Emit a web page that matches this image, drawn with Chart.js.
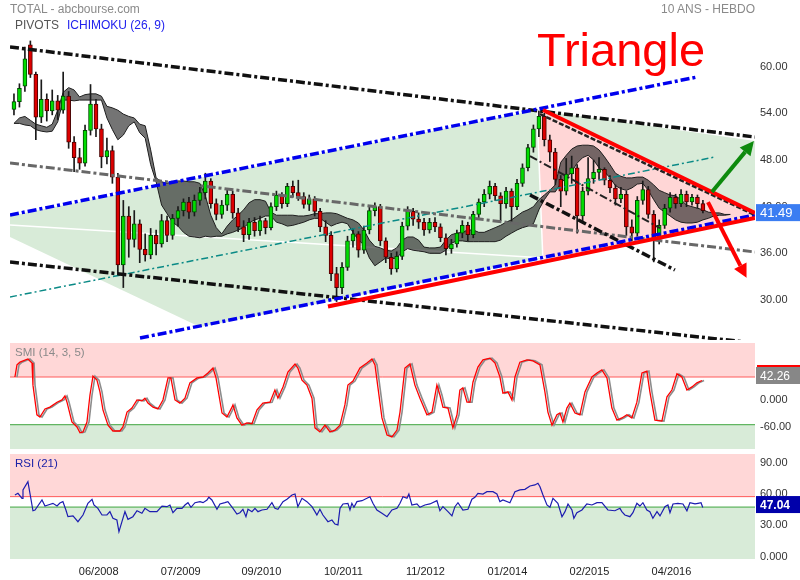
<!DOCTYPE html>
<html><head><meta charset="utf-8">
<script src="https://cdn.jsdelivr.net/npm/chart.js@4.4.1/dist/chart.umd.min.js"></script>
<style>
body{margin:0;background:#fff;width:800px;height:580px;overflow:hidden;font-family:Arial,'Liberation Sans',sans-serif}
#wrap{position:relative;width:800px;height:580px}
canvas{position:absolute;left:0}
.t{position:absolute;white-space:nowrap;font-size:12px;line-height:14px}
</style></head><body><div id="wrap">
<canvas id="cMain" width="800" height="342" style="top:0"></canvas>
<canvas id="cSmi" width="800" height="108" style="top:342px"></canvas>
<canvas id="cRsi" width="800" height="130" style="top:450px"></canvas>
<div class="t" style="left:10px;top:2px;color:#8a8a8a">TOTAL - abcbourse.com</div>
<div class="t" style="left:15px;top:18px;color:#555">PIVOTS</div>
<div class="t" style="left:67px;top:18px;color:#2222ee">ICHIMOKU (26, 9)</div>
<div class="t" style="right:45px;top:2px;color:#8a8a8a">10 ANS - HEBDO</div>
<div class="t" style="left:537px;top:26px;color:#ff0000;font-size:47px;line-height:47px">Triangle</div>
<div class="t" style="left:15px;top:345px;color:#8a8a8a;font-size:11.5px">SMI (14, 3, 5)</div>
<div class="t" style="left:15px;top:456px;color:#1c22a8;font-size:11.5px">RSI (21)</div>
</div>
<script>
// ---------- DATA ----------
// weekly index axis (0 = first candle, spring 2007); candles every 4 weeks
const openP = [54.5,55.5,57.5,62.8,59.0,53.5,55.8,54.3,55.6,54.4, 56.2,50.3,48.3,47.6,51.8,55.2,52.0,48.4,49.2,45.8,
  34.5,40.8,37.8,39.8,36.5,35.8,38.3,37.2,40.2,38.3, 40.5,41.5,42.6,41.3,42.8,43.8,45.3,42.4,41.0,42.2,
  43.6,41.2,39.4,38.4,40.0,38.9,40.2,39.3,42.0,43.5, 42.4,44.6,43.8,43.3,42.3,43.0,41.4,39.4,38.3,33.4,
  31.6,34.2,37.6,38.5,36.4,39.0,41.5,42.0,37.6,35.5, 34.0,35.6,39.5,41.4,40.4,40.0,39.0,40.0,39.4,38.0,
  36.6,37.2,38.6,39.6,38.4,41.0,42.6,43.6,44.6,43.4, 42.4,44.0,42.0,45.0,47.0,49.6,52.0,53.6,50.6,49.0,
  45.5,44.0,46.2,47.0,40.8,44.0,45.6,46.4,46.8,45.4, 44.4,43.0,43.6,39.4,38.6,42.8,44.2,41.0,37.8,39.6,
  41.8,43.2,42.4,43.6,42.6,43.2,42.4];
const highP = [56.5,57.8,62.5,63.3,59.3,58.3,56.5,57.0,56.3,59.3, 56.8,51.0,49.5,52.5,57.7,55.8,52.6,50.8,49.8,46.3,
  42.8,42.0,41.5,40.3,38.5,39.2,39.0,41.0,40.8,41.0, 42.0,43.0,43.2,43.5,44.5,46.3,45.6,43.0,42.8,44.3,
  44.0,41.8,40.2,40.5,40.6,40.8,40.5,42.5,44.0,43.8, 45.0,45.3,45.4,43.8,43.5,43.3,41.8,40.2,38.8,34.2,
  34.8,38.2,39.2,38.8,39.5,42.0,42.5,42.3,38.0,36.0, 36.2,40.0,42.0,41.8,41.2,40.5,40.5,40.6,39.8,38.5,
  37.8,39.0,40.2,40.0,41.4,43.0,44.2,45.3,45.0,43.8, 44.5,44.3,45.5,47.5,50.0,52.5,54.3,54.0,51.2,49.5,
  46.0,48.2,48.5,47.4,44.5,48.3,48.0,48.3,47.0,46.0, 44.8,44.5,44.0,40.3,43.3,45.3,44.6,41.5,40.3,42.3,
  43.8,43.6,44.2,44.0,43.6,43.5,42.8];
const lowP = [53.8,54.8,56.8,58.6,50.6,52.8,53.0,53.8,53.2,54.0, 49.5,46.5,46.8,47.2,51.2,51.0,47.0,47.5,45.0,33.2,
  31.6,35.5,36.8,34.8,35.0,35.3,35.8,36.8,37.5,37.8, 39.5,40.8,40.5,40.8,42.2,43.0,41.8,40.3,40.5,41.5,
  40.5,38.8,37.5,37.8,38.2,38.3,38.5,39.0,41.5,41.8, 42.0,43.2,42.8,41.8,41.5,40.8,38.8,37.5,32.5,29.8,
  30.8,33.8,36.8,35.5,36.0,38.5,40.8,37.0,34.8,33.3, 33.6,35.2,39.0,39.6,39.2,38.3,38.6,38.8,37.5,35.8,
  36.0,36.8,38.0,37.6,38.0,40.6,42.0,43.0,42.8,40.2, 41.8,40.0,41.6,44.6,46.6,49.0,51.0,49.8,47.8,44.8,
  42.0,43.5,45.0,38.6,40.0,43.5,45.0,45.5,44.8,43.8, 42.2,42.5,38.3,37.6,38.2,42.3,40.5,34.9,37.2,39.2,
  41.3,41.8,42.0,42.0,42.2,41.8,41.2];
const closeP = [55.5,57.2,61.0,59.0,53.5,55.8,54.3,55.6,54.4,56.2, 50.3,48.3,47.6,51.8,55.2,52.0,48.4,49.2,45.8,34.5,
  40.8,37.8,39.8,36.5,35.8,38.3,37.2,40.2,38.3,40.5, 41.5,42.6,41.3,42.8,43.8,45.3,42.4,41.0,42.2,43.6,
  41.2,39.4,38.4,40.0,38.9,40.2,39.3,42.0,43.5,42.4, 44.6,43.8,43.3,42.3,43.0,41.4,39.4,38.3,33.4,31.6,
  34.2,37.6,38.5,36.4,39.0,41.5,42.0,37.6,35.5,34.0, 35.6,39.5,41.4,40.4,40.0,39.0,40.0,39.4,38.0,36.6,
  37.2,38.6,39.6,38.4,41.0,42.6,43.6,44.6,43.4,42.4, 44.0,42.0,45.0,47.0,49.6,52.0,53.6,50.6,49.0,45.5,
  44.0,46.2,47.0,40.8,44.0,45.6,46.4,46.8,45.4,44.4, 43.0,43.6,39.4,38.6,42.8,44.2,41.0,37.8,39.6,41.8,
  43.2,42.4,43.6,42.6,43.2,42.4,41.49];
const candleWeek = closeP.map((_, i) => 4 * i);

// Ichimoku cloud (senkou spans), every 4 weeks, projected 26 weeks ahead
const cloudA = [52.7,53.4,53.6,53.1,52.6,52.4,52.2,52.6,54.4,56.7, 57.3,57.0,56.1,56.4,56.5,56.5,56.2,54.9,54.7,54.4,
  53.9,53.6,53.4,52.6,52.4,49.3,45.7,45.2,45.0,45.2, 45.3,45.3,45.2,45.2,45.0,43.4,40.9,39.3,38.5,39.5,
  40.3,40.9,41.6,42.5,42.9,42.9,42.7,41.3,40.9,40.9, 40.9,40.9,40.8,40.8,40.9,41.1,41.1,41.2,41.2,41.1,
  40.8,40.5,40.3,39.9,39.0,37.7,36.9,36.7,36.4,36.3, 36.7,37.7,38.1,38.1,37.7,36.8,36.7,36.7,36.8,37.7,
  38.4,38.6,38.7,39.0,39.0,38.7,38.7,39.0,39.3,39.6, 40.0,40.3,40.8,41.3,41.6,42.0,42.9,43.5,44.1,44.8,
  47.7,48.6,49.4,49.8,49.9,49.9,49.8,49.3,48.4,47.4, 46.3,45.9,45.7,45.7,45.8,45.8,45.4,44.8,44.1,43.8,
  43.5,43.4,42.9,42.2,42.0,41.8,41.6,41.3,41.2,41.2, 41.0,41.0];
const cloudB = [52.7,52.7,52.5,52.4,51.9,51.7,51.6,51.7,52.9,55.7, 55.7,55.6,55.7,55.7,55.7,55.7,55.7,53.4,51.9,50.6,
  51.2,52.4,52.9,51.5,50.8,47.4,45.2,42.2,41.1,40.0, 39.5,38.7,38.2,38.1,38.0,38.2,38.1,38.2,38.2,38.5,
  38.7,39.0,39.3,39.9,40.3,40.5,40.8,40.8,40.0,39.8, 39.5,39.6,39.8,40.0,40.3,40.5,40.5,40.0,39.5,39.8,
  40.0,39.8,38.7,37.7,37.1,35.4,34.4,34.9,35.4,35.3, 35.4,36.2,36.6,36.4,36.3,36.2,36.0,36.0,36.0,36.4,
  37.3,37.6,37.6,37.5,37.5,37.5,37.5,37.5,37.5,37.7, 38.2,38.6,39.0,39.3,39.5,39.8,41.6,42.9,43.9,43.9,
  45.0,45.7,46.5,47.6,48.3,48.6,48.0,47.0,46.5,45.7, 44.7,44.3,44.1,44.4,44.9,45.0,44.1,42.9,41.8,41.3,
  40.8,40.3,40.0,39.9,39.9,40.0,40.3,40.5,40.8,40.9, 40.9,41.0];
const cloudWeek = cloudA.map((_, i) => 4 * i);

// drawn trend lines / zones, as [week, price] pairs
const resTopBlack   = [[-2.9, 62.52], [542.1, 50.95]];
const pivotGray     = [[-2.9, 47.61], [542.1, 36.17]];
const supBotBlack   = [[-2.9, 34.88], [542.1, 24.47]];
const chanTopBlue   = [[-2.9, 40.93], [499.6, 58.66]];
const chanBotBlue   = [[92.2, 25.12], [542.1, 40.93]];
const tealLine      = [[-2.9, 30.39], [512.8, 48.38]];
const triUpperRed   = [[387.0, 54.42], [542.1, 41.18]];
const triLowerRed   = [[229.7, 29.16], [542.1, 40.54]];
const triUpperDash  = [[384.8, 53.90], [542.1, 40.92]];
const innerDash1    = [[377.5, 48.51], [472.6, 39.25]];
const innerDash2    = [[377.5, 43.50], [483.5, 33.86]];
const whiteGuide    = [[-2.9, 39.64], [388.4, 35.40]];
const pinkEdge      = [[382.6, 54.42], [387.0, 34.88]];
const greenZone     = [[-2.9, 40.80], [382.6, 54.42], [542.1, 50.44], [542.1, 40.80], [136.1, 26.53], [-2.9, 38.10], [-2.9, 40.80]];
const pinkZone      = [[382.6, 54.42], [542.1, 41.18], [542.1, 40.67], [387.0, 34.88], [382.6, 54.42]];
const upArrowShaft  = [[510.6, 43.88], [534.9, 49.04]];
const upArrowHead   = [[541.3, 50.43], [538.8, 48.48], [530.9, 49.61], [541.3, 50.43]];
const dnArrowShaft  = [[507.7, 42.59], [531.4, 34.41]];
const dnArrowHead   = [[536.2, 32.83], [535.9, 34.83], [526.8, 33.98], [536.2, 32.83]];

// SMI (14,3,5)
const smiWeek = [0.7,2.2,4.4,10.2,13.2,13.9,16.8,19.0,22.7,26.3, 31.5,35.1,37.3,38.8,42.4,46.1,48.3,50.5,53.4,55.6,
  57.8,60.7,62.9,65.1,68.8,72.4,77.5,79.7,82.7,86.3, 90.0,93.6,95.8,98.0,101.7,105.3,109.0,112.7,114.8,117.8,
  121.4,125.1,128.7,133.9,138.3,141.9,145.6,147.8,152.2,155.8, 159.5,160.2,163.1,166.8,170.4,174.1,177.8,182.1,187.3,190.9,
  193.1,196.8,200.4,205.6,207.7,210.7,214.3,218.0,220.2,223.8, 227.5,231.2,234.8,238.5,242.1,244.3,248.0,253.1,258.2,261.9,
  264.1,266.3,269.2,272.9,276.5,280.2,282.4,286.0,289.7,293.3, 297.0,302.1,305.8,309.4,311.6,313.8,317.5,321.1,324.1,326.2,
  328.4,331.4,333.6,335.8,339.4,343.1,348.2,351.9,355.5,357.7, 361.4,364.3,366.5,370.1,375.3,379.7,384.8,388.4,390.6,393.6,
  397.2,399.4,401.6,404.5,406.7,410.4,414.0,417.7,422.8,426.5, 430.1,433.8,437.4,441.1,444.7,448.4,452.0,455.7,459.4,463.0,
  465.2,468.9,474.0,477.7,481.3,485.0,488.6,492.3,496.0,499.6, 503.3];
const smiVal = [50,77,83,90,81,32,-34,-39,-21,-17, -6,-1,8,-6,-50,-61,-74,-72,-50,10,
  52,43,17,-23,-57,-70,-70,-61,-28,-19, -1,-3,3,-8,-17,-21,-1,48,48,-1,
  -8,3,37,48,50,59,70,48,-30,-39, -17,-12,-41,-57,-52,-54,-23,-8,-6,21,
  3,28,61,79,70,43,32,3,-63,-72, -57,-72,-68,-57,-12,32,41,70,81,90,
  77,26,-41,-79,-83,-68,-28,70,79,32, 3,-34,-28,32,10,-17,-19,-63,-34,21,
  26,-6,-6,39,72,88,92,81,50,14, 17,-1,50,83,88,86,77,17,-28,-57,
  -34,-30,-50,-19,-8,-30,-34,17,50,59, 66,48,-19,-46,-41,-34,-41,-6,59,63,
  17,-46,-48,6,21,57,50,21,28,37, 42.26];
const smiSignalLagWeeks = 1.5;
const smiLevels = [50, -56];
const smiTicks = [0, -60];

// RSI (21)
const rsiWeek = [0.7,2.9,5.9,6.6,10.2,11.7,13.9,15.4,20.5,22.7, 24.9,28.5,31.5,33.6,35.8,38.0,39.5,43.2,46.8,50.5,
  54.1,57.1,58.5,61.4,64.4,68.0,70.2,72.4,75.3,76.8, 79.0,81.2,83.4,87.0,90.0,93.6,95.8,99.5,104.6,108.3,
  111.9,114.1,116.3,119.2,122.9,125.1,127.3,129.5,132.4,136.1, 138.3,141.2,142.6,144.8,148.5,150.7,154.3,156.5,160.2,163.1,
  165.3,167.5,169.7,171.2,174.1,176.3,178.5,181.4,185.1,188.7, 190.9,193.1,196.8,199.7,203.4,205.6,207.7,210.7,214.3,218.0,
  220.2,221.6,223.8,226.0,229.7,232.6,234.8,237.0,238.5,240.7, 244.3,245.8,247.2,248.7,250.9,254.6,258.2,260.4,262.6,265.5,
  269.2,272.9,276.5,280.2,282.4,284.6,287.5,288.9,291.1,294.8, 297.0,300.6,304.3,309.4,311.6,313.8,317.5,320.4,322.6,324.8,
  328.4,332.1,335.0,337.2,339.4,343.1,346.0,350.4,353.3,355.5, 357.7,362.8,366.5,370.1,373.8,377.5,381.1,383.3,384.8,387.0,
  389.9,392.1,394.3,397.9,400.9,403.1,405.3,408.2,409.6,411.8, 415.5,419.1,422.8,426.5,430.1,434.5,439.6,443.3,444.7,446.9,
  450.6,452.8,455.7,457.9,460.1,463.0,465.2,467.4,470.4,472.6, 476.2,478.4,479.9,482.1,485.7,489.4,492.3,494.5,498.2,500.4,
  502.6,503.9];
const rsiVal = [59,60.7,55.9,63.9,71.8,60.7,44,44.7,54.3,48.5, 49.5,51.1,48.5,51.4,52.7,44.7,38.3,39,33.5,39.9,
  51.1,55,49.5,46.3,39.9,39.9,43.1,36.8,35.1,23.9, 33.5,43.1,35.8,38.3,44,41.6,46.3,43.1,43.1,48.5,
  47.9,49.5,42.1,46.3,46.3,49.5,51.7,47.3,51.7,52.7, 51.7,54.3,56.9,54.3,45.4,50.5,51.7,52.7,46.3,40.9,
  42.1,45.4,38.3,45.4,43.1,46.3,43.1,44.7,45.4,51.7, 46.3,45.4,52.7,55,59.1,60,47.9,55.9,52.7,47.9,
  43.1,39.9,45.4,39.9,33.5,35.1,31.3,30.4,46.3,50.5, 51.1,44.7,51.1,47.3,52.7,53.6,55.9,57.4,51.1,44.7,
  41.6,38.3,44.7,46.3,51.1,57.4,55.9,60,49.5,50.5, 47.3,49.5,50.5,53.6,44,47.9,43.1,39,47.9,51.7,
  44.7,45.4,55,56.9,60.7,60,62.2,62.2,60,52.7, 54.3,51.7,62.2,63.9,64.5,67.7,68.7,70.3,67,59.1,
  49.5,47.3,55.9,51.1,38.3,43.1,50.5,44.7,36.8,42.1, 44.7,50.5,49.5,51.7,51.7,44.7,44,46.3,43.1,39.9,
  38.3,42.1,51.1,48.5,51.7,44.7,43.1,36.8,43.1,39, 47.9,49.5,42.1,50.5,51.1,50.5,44,51.7,50.5,51.1,
  51.7,47.04];
const rsiLevels = [57.5, 47.5];
const rsiTicks = [0, 30, 60, 90];

const priceTicks = [30, 36, 42, 48, 54, 60];
const xTickWeeks = [62, 122, 181, 241, 301, 361, 421, 481];
const xTickLabels = ['06/2008','07/2009','09/2010','10/2011','11/2012','01/2014','02/2015','04/2016'];

// ---------- CHARTS ----------
const X_MIN = -2.9, X_MAX = 542.1;
Chart.defaults.font.family = "Arial, 'Liberation Sans', sans-serif";
const pairs = arr => arr.map(p => ({x: p[0], y: p[1]}));
const zip = (xs, ys) => xs.map((x, i) => ({x, y: ys[i]}));
const fmt = v => v === 0 ? '0.000' : v.toFixed(2);

function lineDs(data, color, width, dash, order, extra) {
  return Object.assign({type: 'line', data, borderColor: color, borderWidth: width, borderDash: dash || [],
    pointRadius: 0, fill: false, tension: 0, order, borderCapStyle: 'butt'}, extra || {});
}
function zoneDs(data, color, order) {
  return {type: 'line', data, borderWidth: 0, borderColor: 'rgba(0,0,0,0)', backgroundColor: color,
    pointRadius: 0, fill: 'shape', tension: 0, order};
}
function yAxis(min, max, ticks) {
  return {position: 'right', min, max,
    grid: {display: false, drawTicks: false}, border: {display: false},
    afterBuildTicks: s => { s.ticks = ticks.map(v => ({value: v})); },
    afterFit: s => { s.width = 45; s.paddingTop = 0; s.paddingBottom = 0; },
    ticks: {padding: 5, color: '#333', font: {size: 11}, callback: v => fmt(v)}};
}
const hiddenX = {type: 'linear', min: X_MIN, max: X_MAX, offset: false, display: false};
const tagPlugin = {
  id: 'tags',
  afterDraw(chart, args, o) {
    const ctx = chart.ctx, a = chart.chartArea;
    const y = chart.scales.y.getPixelForValue(o.value) + (o.dy || 0);
    ctx.save();
    if (o.topBar) { ctx.fillStyle = o.topBar; ctx.fillRect(a.right + 2, y - 10.5, 800 - a.right - 2, 2); }
    ctx.fillStyle = o.bg;
    ctx.fillRect(a.right + 1, y - 8.5, 800 - a.right - 1, 17);
    ctx.fillStyle = '#fff'; ctx.font = o.font; ctx.textBaseline = 'middle'; ctx.textAlign = 'left';
    ctx.fillText(o.text, a.right + 5, y + 1);
    ctx.restore();
  }
};
const baseOpts = {responsive: false, maintainAspectRatio: false, animation: false, events: []};

// main price panel
const bodyColors = closeP.map((c, i) => c >= openP[i] ? '#00dd00' : '#dd0000');
const bodyBorders = closeP.map((c, i) => c >= openP[i] ? '#004a00' : '#4a0000');
const BLK_DASH = [9, 3, 3, 3];
new Chart(document.getElementById('cMain'), {
  type: 'bar',
  data: {datasets: [
    zoneDs(pairs(greenZone), '#d8ebd8', 100),
    zoneDs(pairs(pinkZone), '#ffd6d6', 99),
    lineDs(pairs(whiteGuide), '#ffffff', 1.5, [], 98),
    lineDs(pairs(pinkEdge), '#ffffff', 1.5, [], 98),
    lineDs(zip(cloudWeek, cloudA), '#1e1e1e', 1, [], 90, {fill: '+1', backgroundColor: 'rgba(38,38,38,0.64)'}),
    lineDs(zip(cloudWeek, cloudB), '#1e1e1e', 1, [], 89),
    {type: 'bar', data: candleWeek.map((w, i) => ({x: w, y: [lowP[i], highP[i]]})), backgroundColor: '#1a1a1a',
      barThickness: 1, grouped: false, order: 31},
    {type: 'bar', data: candleWeek.map((w, i) => ({x: w, y: [openP[i], closeP[i]]})), backgroundColor: bodyColors,
      borderColor: bodyBorders, borderWidth: 1, borderSkipped: false, barThickness: 4, minBarLength: 1, grouped: false, order: 30},
    lineDs(pairs(pivotGray), '#686868', 3, BLK_DASH, 22),
    lineDs(pairs(tealLine), '#0a8a86', 1.5, [7, 3, 2, 3], 22),
    lineDs(pairs(innerDash1), '#222', 2, [8, 3, 2, 3], 21),
    lineDs(pairs(innerDash2), '#111', 3.5, [9, 3, 3, 3], 21),
    lineDs(pairs(resTopBlack), '#111', 3.5, BLK_DASH, 20),
    lineDs(pairs(supBotBlack), '#111', 3.5, BLK_DASH, 20),
    lineDs(pairs(chanTopBlue), '#0000ee', 3.5, BLK_DASH, 19),
    lineDs(pairs(chanBotBlue), '#0000ee', 3.5, BLK_DASH, 19),
    lineDs(pairs(triUpperDash), '#222', 2.5, [5, 2], 7),
    lineDs(pairs(triUpperRed), '#ff0000', 4, [], 5),
    lineDs(pairs(triLowerRed), '#ff0000', 4, [], 5),
    lineDs(pairs(upArrowShaft), '#0d8a0d', 4, [], 2),
    zoneDs(pairs(upArrowHead), '#0d8a0d', 1),
    lineDs(pairs(dnArrowShaft), '#ff0000', 4, [], 2),
    zoneDs(pairs(dnArrowHead), '#ff0000', 1)
  ]},
  options: Object.assign({}, baseOpts, {
    layout: {autoPadding: false, padding: {left: 10, top: 38, bottom: 2, right: 0}},
    plugins: {legend: {display: false}, tooltip: {enabled: false},
      tags: {value: closeP[closeP.length - 1], text: closeP[closeP.length - 1].toFixed(2), bg: '#3b7df2', font: '13px Arial, Liberation Sans, sans-serif', dy: 2}},
    scales: {x: hiddenX, y: yAxis(24.86, 63.68, priceTicks)}
  }),
  plugins: [tagPlugin]
});

// SMI panel
const smiLast = smiVal[smiVal.length - 1];
new Chart(document.getElementById('cSmi'), {
  type: 'line',
  data: {datasets: [
    lineDs([{x: X_MIN, y: smiLevels[0]}, {x: X_MAX, y: smiLevels[0]}], '#ff5a5a', 1, [], 10, {fill: 'end', backgroundColor: '#ffd7d7'}),
    lineDs([{x: X_MIN, y: smiLevels[1]}, {x: X_MAX, y: smiLevels[1]}], '#3fa63f', 1, [], 10, {fill: 'start', backgroundColor: '#d8ebd8'}),
    lineDs(smiWeek.map((w, i) => ({x: w + smiSignalLagWeeks, y: smiVal[i]})), '#8c8c8c', 1.6, [], 3),
    lineDs(zip(smiWeek, smiVal), '#ff0000', 1.3, [], 2)
  ]},
  options: Object.assign({}, baseOpts, {
    layout: {autoPadding: false, padding: {left: 10, top: 1, bottom: 1, right: 0}},
    plugins: {legend: {display: false}, tooltip: {enabled: false},
      tags: {value: smiLast, text: smiLast.toFixed(2), bg: '#878787', font: '12px Arial, Liberation Sans, sans-serif', topBar: '#ff0000', dy: -5}},
    scales: {x: hiddenX, y: yAxis(-110, 125.6, smiTicks)}
  }),
  plugins: [tagPlugin]
});

// RSI panel
const rsiLast = rsiVal[rsiVal.length - 1];
new Chart(document.getElementById('cRsi'), {
  type: 'line',
  data: {datasets: [
    lineDs([{x: X_MIN, y: rsiLevels[0]}, {x: X_MAX, y: rsiLevels[0]}], '#ff5a5a', 1, [], 10, {fill: 'end', backgroundColor: '#ffd7d7'}),
    lineDs([{x: X_MIN, y: rsiLevels[1]}, {x: X_MAX, y: rsiLevels[1]}], '#3fa63f', 1, [], 10, {fill: 'start', backgroundColor: '#d8ebd8'}),
    lineDs(zip(rsiWeek, rsiVal), '#1c1cb0', 1.2, [], 2)
  ]},
  options: Object.assign({}, baseOpts, {
    layout: {autoPadding: false, padding: {left: 10, top: 4, bottom: 0, right: 0}},
    plugins: {legend: {display: false}, tooltip: {enabled: false},
      tags: {value: rsiLast, text: rsiLast.toFixed(2), bg: '#0000aa', font: 'bold 12px Arial, Liberation Sans, sans-serif', dy: -3}},
    scales: {
      x: {type: 'linear', min: X_MIN, max: X_MAX, offset: false,
        grid: {display: false, drawTicks: false}, border: {display: false},
        afterBuildTicks: s => { s.ticks = xTickWeeks.map(v => ({value: v})); },
        afterFit: s => { s.height = 21; s.paddingLeft = 0; s.paddingRight = 0; },
        ticks: {padding: 6, color: '#222', font: {size: 11}, autoSkip: false, maxRotation: 0,
          callback: v => xTickLabels[xTickWeeks.indexOf(v)]}},
      y: yAxis(-2.2, 98.3, rsiTicks)
    }
  }),
  plugins: [tagPlugin]
});
</script>
</body></html>
